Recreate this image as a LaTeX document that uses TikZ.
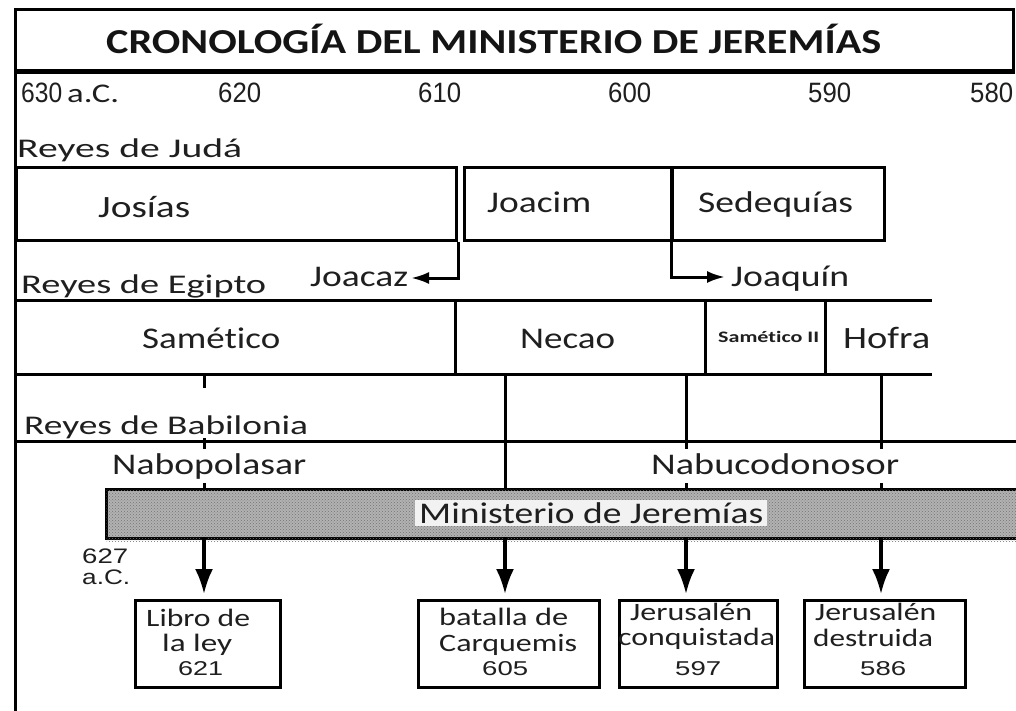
\documentclass[tikz,border=0pt]{standalone}
\usepackage{fontspec}
\usepackage{graphicx}
\usetikzlibrary{arrows.meta,patterns}
\newfontfamily\cf{Carlito}[Ligatures=NoCommon]
\newfontfamily\lf{Liberation Sans}
\newcommand\T[3]{\resizebox{#1pt}{\height}{\fontsize{#2pt}{#2pt}\selectfont #3}}
\tikzset{
  ln/.style={line width=3pt},
  lab/.style={inner sep=0pt, anchor=base west, font=\cf, text=black!88},
  num/.style={inner sep=0pt, anchor=base west, font=\lf, text=black!88},
  evbox/.style={draw, line width=3pt, inner sep=0pt, anchor=north west},
  big/.style={-{Latex[length=25pt,width=18pt]}, line width=3.2pt},
  small/.style={-{Latex[length=18pt,width=12pt]}, line width=3pt},
}
\begin{document}
\begin{tikzpicture}[x=1pt,y=-1pt]
\useasboundingbox (0,0) rectangle (1016,711);
\clip (0,0) rectangle (1016,711);
\fill[white] (0,0) rectangle (1016,711);

% frame and title box
\draw[ln] (15,10) -- (1013,10) -- (1013,72);
\draw[line width=5pt] (15,72) -- (1014.5,72);
\draw[ln] (15,8.5) -- (15,711);
\node[lab, font=\cf\bfseries, text=black!92] (title) at (106,54) {\T{775}{35}{CRONOLOGÍA DEL MINISTERIO DE JEREMÍAS}};

% years
\node[num] (y630) at (21,103) {\T{41}{28}{630}};
\node[lab] (y630b) at (67,103) {\T{52}{27}{a.C.}};
\node[num] (y620) at (218,103) {\T{43}{28}{620}};
\node[num] (y610) at (418,103) {\T{43}{28}{610}};
\node[num] (y600) at (608,103) {\T{43}{28}{600}};
\node[num] (y590) at (808,103) {\T{43}{28}{590}};
\node[num] (y580) at (970,103) {\T{43}{28}{580}};

% Juda
\node[lab] (rj) at (17,158) {\T{225}{27}{Reyes de Judá}};
\node[evbox, minimum width=440pt, minimum height=73pt] (josias) at (15,166) {};
\node[evbox, minimum width=207pt, minimum height=73pt] (joacim) at (463,166) {};
\node[evbox, minimum width=212pt, minimum height=73pt] (sedeq) at (671,166) {};
\node[lab] (tjos) at (98,218) {\T{92}{31}{Josías}};
\node[lab] (tjoa) at (487,212) {\T{104}{30}{Joacim}};
\node[lab] (tsed) at (698,213) {\T{155}{30}{Sedequías}};

\coordinate (jz) at (411,278);
\coordinate (jq) at (725,277);
\draw[small] (josias.south east) |- (jz);
\draw[small] (sedeq.south west) |- (jq);
\node[lab] (joacaz) at (310,286) {\T{98}{30}{Joacaz}};
\node[lab] (joaquin) at (731,286) {\T{118}{30}{Joaquín}};

% Egypt
\node[lab] (re) at (21,293) {\T{245}{27}{Reyes de Egipto}};
\coordinate (e1) at (15,300);
\coordinate (e2) at (932,300);
\coordinate (e3) at (15,374);
\coordinate (e4) at (932,374);
\draw[ln] (e1) -- (e2);
\draw[ln] (e3) -- (e4);
\draw[ln] (455,300) -- (455,374);
\draw[ln] (705,300) -- (705,374);
\draw[ln] (825,300) -- (825,374);
\node[lab] (samet) at (142,348) {\T{138}{30}{Samético}};
\node[lab] (necao) at (520,348) {\T{95}{30}{Necao}};
\node[lab, font=\cf\bfseries] (samet2) at (718,342) {\T{101}{16}{Samético II}};
\node[lab] (hofra) at (843,348) {\T{87}{31}{Hofra}};

% Babilonia
\draw[ln] (15,441) -- (1016,441);
\node[evbox, fill=black!30, minimum width=940pt, minimum height=49pt] (min) at (105,488) {};
\fill[pattern=crosshatch dots, pattern color=black!55] ([shift={(1.5pt,-1.5pt)}]min.south west) rectangle (1016,489.5);
\coordinate (t1) at (204,374);
\coordinate (t2) at (505,374);
\coordinate (t3) at (686,374);
\coordinate (t4) at (881,374);
\foreach \t in {t1,t2,t3,t4} {\draw[ln] (\t) -- (\t |- min.north);}
\node[lab, fill=white, text height=46pt, text depth=4pt] (rb) at (24,434) {\T{284}{27}{Reyes de Babilonia}};
\node[lab, fill=white, text height=25pt, text depth=9pt] (nabo) at (112,474) {\T{194}{30}{Nabopolasar}};
\node[lab, fill=white, text height=25pt, text depth=9pt] (nabu) at (651,474) {\T{248}{30}{Nabucodonosor}};
\node[lab, fill=black!5, inner xsep=4pt, text height=23pt, text depth=3pt] (mint) at (415,523) {\T{344}{30}{Ministerio de Jeremías}};

\node[num] (d627) at (82,563) {\T{46}{21}{627}};
\node[num] (dac) at (82,584) {\T{48}{21}{a.C.}};

% event boxes
\node[evbox, minimum width=145pt, minimum height=87pt] (b1) at (134,599) {};
\node[evbox, minimum width=181pt, minimum height=87pt] (b2) at (417,599) {};
\node[evbox, minimum width=158pt, minimum height=87pt] (b3) at (618,599) {};
\node[evbox, minimum width=161pt, minimum height=87pt] (b4) at (803,599) {};

\coordinate (a1) at (204,537);
\coordinate (a2) at (505,537);
\coordinate (a3) at (686,537);
\coordinate (a4) at (881,537);
\draw[big, shorten >=5pt] (a1) -- (a1 |- b1.north);
\draw[big, shorten >=5pt] (a2) -- (a2 |- b2.north);
\draw[big, shorten >=5pt] (a3) -- (a3 |- b3.north);
\draw[big, shorten >=5pt] (a4) -- (a4 |- b4.north);

\node[lab] at (146,626) {\T{104}{25}{Libro de}};
\node[lab] at (162,651) {\T{70}{25}{la ley}};
\node[num] at (178,675) {\T{45}{20}{621}};
\node[lab] at (439,625) {\T{129}{25}{batalla de}};
\node[lab] at (439,651) {\T{138}{25}{Carquemis}};
\node[num] at (482,675) {\T{46}{20}{605}};
\node[lab] at (630,620) {\T{122}{25}{Jerusalén}};
\node[lab] at (618,645) {\T{157}{25}{conquistada}};
\node[num] at (675,675) {\T{46}{20}{597}};
\node[lab] at (815,620) {\T{121}{25}{Jerusalén}};
\node[lab] at (813,646) {\T{120}{25}{destruida}};
\node[num] at (860,675) {\T{46}{20}{586}};
\end{tikzpicture}
\end{document}
